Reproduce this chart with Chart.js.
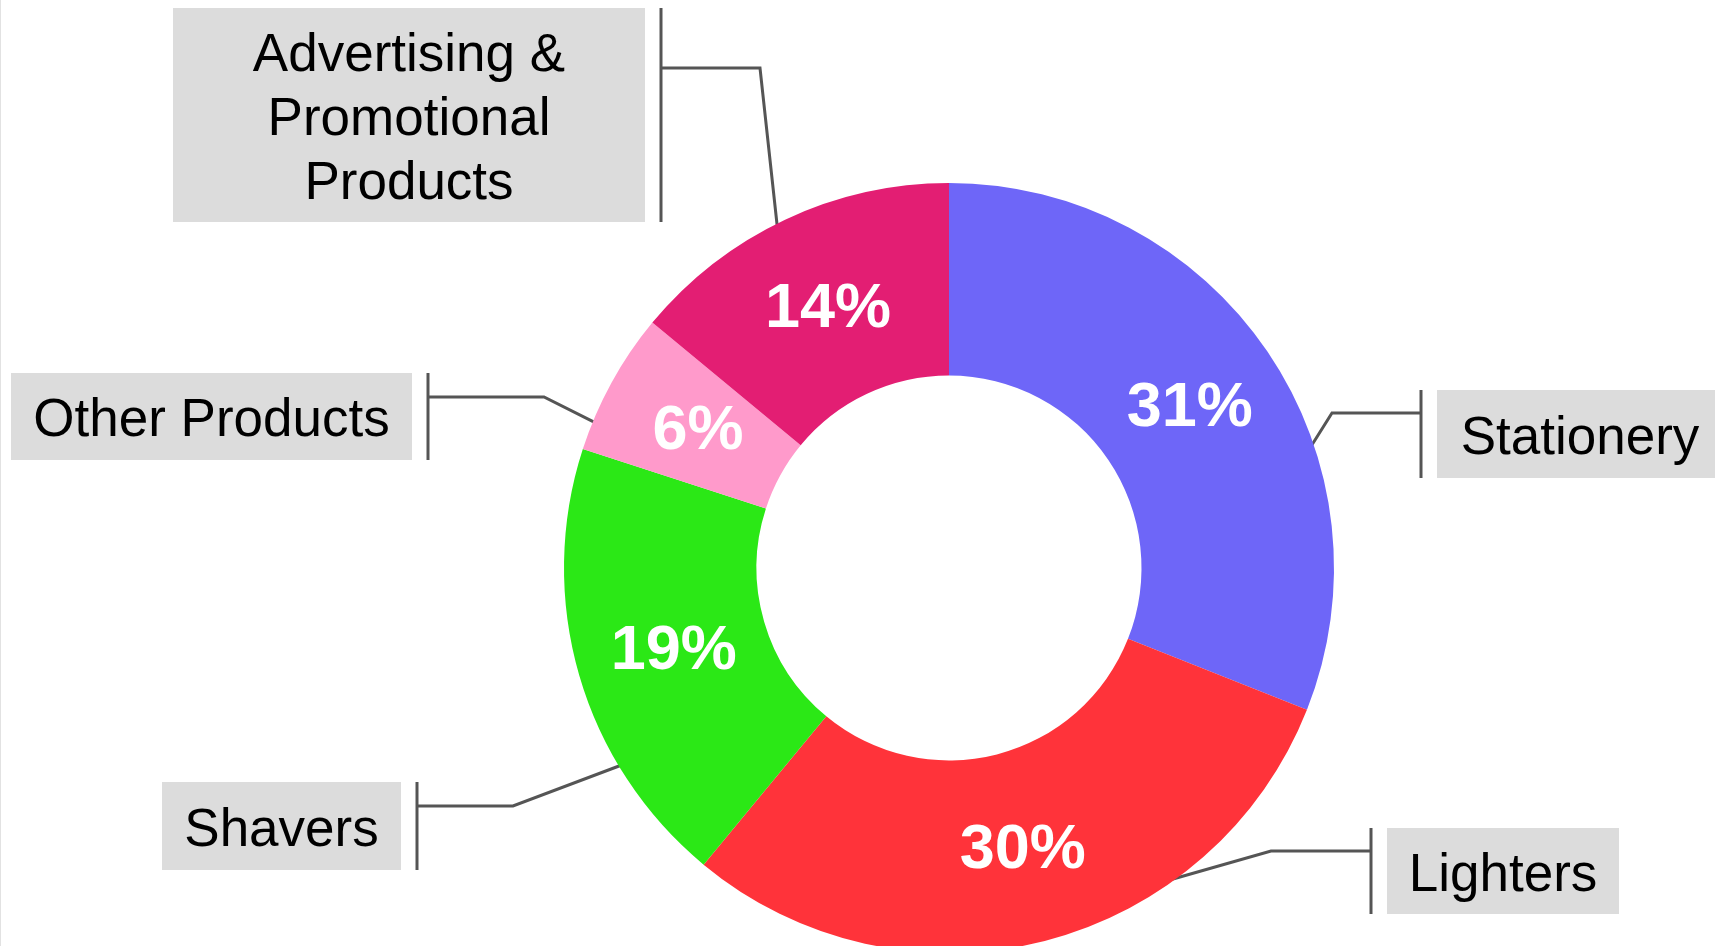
<!DOCTYPE html>
<html>
<head>
<meta charset="utf-8">
<script src="https://cdn.jsdelivr.net/npm/chart.js@4/dist/chart.umd.min.js"></script>
<style>
  html, body { margin: 0; padding: 0; background: #ffffff; overflow: hidden; }
  #wrap { position: relative; width: 1715px; height: 960px; }
</style>
</head>
<body>
<div id="wrap"><canvas id="chart"></canvas></div>
<script>
// Revenue share by product group (percent)
const categories = ['Stationery', 'Lighters', 'Shavers', 'Other Products', 'Advertising & Promotional Products'];
const shares = [31, 30, 19, 6, 14];
const sliceColors = ['#6E66F8', '#FF333A', '#2BE816', '#FF9ACB', '#E31E73'];
// Multi-line text shown in each callout box
const calloutText = [
  ['Stationery'],
  ['Lighters'],
  ['Shavers'],
  ['Other Products'],
  ['Advertising &', 'Promotional', 'Products']
];

// Callout placement: box rectangle, which side the box sits on, where the
// leader bends, how far down the box the leader meets the bar, and where along
// the slice's outer edge the leader starts (fraction of the slice's sweep).
const calloutLayout = [
  { box: [1437, 390, 286, 88], side: 'right', run: 89,  attach: 23, along: 0.64,  inset: 3 },
  { box: [1387, 828, 232, 86], side: 'right', run: 100, attach: 23, along: 0.307, inset: 3 },
  { box: [162, 782, 239, 88],  side: 'left',  run: 96,  attach: 24, along: 0.283, inset: 3 },
  { box: [11, 373, 401, 87],   side: 'left',  run: 116, attach: 24, along: 0.20,  inset: 3 },
  { box: [173, 8, 472, 214],   side: 'left',  run: 99,  attach: 60, along: 0.47,  inset: 3 }
];

const BAR_GAP = 16;
const LINE_COLOR = '#555555';

// Leader lines, vertical bars and grey callout boxes
const calloutPlugin = {
  id: 'callouts',
  beforeDatasetsDraw(chart) {
    const ctx = chart.ctx;
    const arcs = chart.getDatasetMeta(0).data;
    ctx.save();
    // thin frame line on the left edge
    ctx.fillStyle = '#e2e2e2';
    ctx.fillRect(0, 0, 1, chart.height);

    ctx.strokeStyle = LINE_COLOR;
    ctx.lineWidth = 3;
    ctx.lineCap = 'butt';
    ctx.lineJoin = 'miter';
    arcs.forEach((arc, i) => {
      const L = calloutLayout[i];
      const [bx, by, bw, bh] = L.box;
      const p = arc.getProps(['x', 'y', 'startAngle', 'endAngle', 'outerRadius'], true);
      const a = p.startAngle + (p.endAngle - p.startAngle) * L.along;
      const r = p.outerRadius - L.inset;
      const ax = p.x + Math.cos(a) * r;
      const ay = p.y + Math.sin(a) * r;
      const barX = L.side === 'right' ? bx - BAR_GAP : bx + bw + BAR_GAP;
      const ly = by + L.attach;
      const ex = L.side === 'right' ? barX - L.run : barX + L.run;

      ctx.beginPath();
      ctx.moveTo(ax, ay);
      ctx.lineTo(ex, ly);
      ctx.lineTo(barX, ly);
      ctx.stroke();

      ctx.beginPath();
      ctx.moveTo(barX, by);
      ctx.lineTo(barX, by + bh);
      ctx.stroke();
    });
    ctx.restore();
  },
  afterDatasetsDraw(chart) {
    const ctx = chart.ctx;
    const arcs = chart.getDatasetMeta(0).data;
    ctx.save();
    // callout boxes with category names
    arcs.forEach((arc, i) => {
      const L = calloutLayout[i];
      const [bx, by, bw, bh] = L.box;
      ctx.fillStyle = '#DCDCDC';
      ctx.fillRect(bx, by, bw, bh);
      const lines = calloutText[i];
      const lh = 64;
      const cx = L.side === 'right' && bx + bw > chart.width ? bx + 143 : bx + bw / 2;
      const cy = by + bh / 2;
      ctx.fillStyle = '#000000';
      ctx.font = '53px "Liberation Sans", Arial, sans-serif';
      ctx.textAlign = 'center';
      ctx.textBaseline = 'middle';
      lines.forEach((t, k) => {
        ctx.fillText(t, cx, cy + (k - (lines.length - 1) / 2) * lh + 5);
      });
    });
    // percentage labels in the middle of each ring segment
    ctx.fillStyle = '#ffffff';
    ctx.font = 'bold 63px "Liberation Sans", Arial, sans-serif';
    ctx.textAlign = 'center';
    ctx.textBaseline = 'middle';
    arcs.forEach((arc, i) => {
      const pos = arc.tooltipPosition(true);
      ctx.fillText(shares[i] + '%', pos.x + 2, pos.y + 3);
    });
    ctx.restore();
  }
};

new Chart(document.getElementById('chart'), {
  type: 'doughnut',
  data: {
    labels: categories,
    datasets: [{
      data: shares,
      backgroundColor: sliceColors,
      borderWidth: 0,
      hoverOffset: 0
    }]
  },
  options: {
    responsive: true,
    maintainAspectRatio: false,
    animation: false,
    cutout: '50%',
    layout: { padding: { top: 183, bottom: 7, left: 564, right: 381 } },
    plugins: {
      legend: { display: false },
      tooltip: { enabled: false }
    },
    events: []
  },
  plugins: [calloutPlugin]
});
</script>
</body>
</html>
